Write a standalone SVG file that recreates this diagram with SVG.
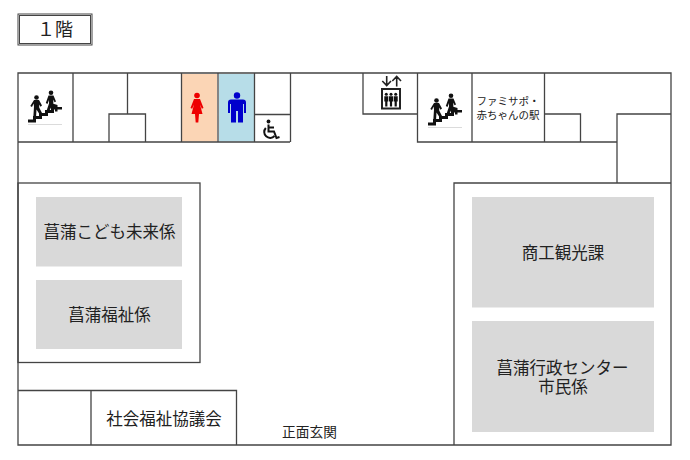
<svg xmlns="http://www.w3.org/2000/svg" width="690" height="460" viewBox="0 0 690 460">
<style>
text{font-family:"Noto Sans CJK JP","Liberation Sans",sans-serif;fill:#222;text-anchor:middle}
.l{fill:none;stroke:#444;stroke-width:1.300}
.g{fill:#d9d9d9}
.k{fill:#111}
.b{font-size:16.500px}
</style>
<defs>
<g id="stairs">
<path class="k" d="M28 122.500V119.500H33V116H39V113H45V110H51V107H62V109.500H54V113H48V116H42V119H36V122.500Z"/>
<path d="M28 124.500H62" stroke="#ccc" stroke-width="0.700"/>
<circle class="k" cx="36.500" cy="97.500" r="2.300"/>
<circle class="k" cx="51" cy="92.800" r="2.300"/>
<path class="k" d="M34 100H39L42 105.500L40.500 106.800L39.200 104.500L39.200 107.500L42.500 114L40 115L36.500 109.500L36 117.500H33.300L34 106.500L33.600 103.500L32 107L30.300 106Z"/>
<path class="k" d="M48.500 95.500H53.500L56 101.500L54.500 102.300L53.300 99.500L53.300 103.800L57.500 105V111.500H55V107.300L51 107.500L48.500 112.500H46L49 103.500L49 100L47.500 104L45.800 103Z"/>
</g>
<g id="p" class="k"><circle cx="0" cy="1.300" r="1.500"/><path d="M-2 3.300H2V8.500H1.100V13.500H-1.100V8.500H-2Z"/></g>
</defs>
<rect width="690" height="460" fill="#fff"/>
<g id="title">
<rect x="18" y="14" width="74" height="31" fill="#fff" stroke="#444" stroke-width="1"/>
<rect x="19.500" y="15.500" width="71" height="28" fill="none" stroke="#444" stroke-width="1"/>
<text x="55" y="36" font-size="18">１階</text>
</g>
<g id="toilets">
<rect x="182" y="74" width="35" height="67.500" fill="#fbd5b5"/>
<rect x="219" y="74" width="35" height="67.500" fill="#b7dde8"/>
</g>
<g id="connectors">
<path class="l" d="M18 73H671V445H18ZM18 142H290M73 73V142M127.500 73V114M109 142V114H145.500V142M181.500 73V142M218 73V142M254.500 73V142M290.500 73V142M254.500 114.500H290.500"/>
<path class="l" d="M363 73V114H417.500M417.500 73V142H617M472 73V142M544.500 73V142M544.500 114H580.500V142M617 183V114H671"/>
</g>
<g id="room-left">
<rect class="l" x="18" y="183" width="182" height="179.500"/>
</g>
<g id="room-kodomo"><rect class="g" x="36" y="197" width="146" height="69.500"/><text class="b" x="109.500" y="237.500">菖蒲こども未来係</text></g>
<g id="room-fukushi"><rect class="g" x="36" y="280" width="146" height="69"/><text class="b" x="109.500" y="320.500">菖蒲福祉係</text></g>
<g id="room-shakai">
<path class="l" d="M18 390.500H236.500V445M91 390.500V445"/>
<text class="b" x="164" y="424.500">社会福祉協議会</text>
</g>
<g id="entrance"><text x="309.500" y="437" font-size="13.700">正面玄関</text></g>
<g id="room-right"><path class="l" d="M671 183H454V445"/></g>
<g id="room-shoko"><rect class="g" x="472" y="197" width="182" height="110.500"/><text class="b" x="563" y="258.500">商工観光課</text></g>
<g id="room-shimin"><rect class="g" x="472" y="321" width="182" height="111"/><text class="b"><tspan x="562.500" y="373.500">菖蒲行政センター</tspan><tspan x="563" y="392.500">市民係</tspan></text></g>
<g id="famisapo"><text font-size="10.500"><tspan x="508" y="104.500">ファミサポ・</tspan><tspan x="508" y="118.500">赤ちゃんの駅</tspan></text></g>
<g id="stairs-left"><use href="#stairs"/></g>
<g id="stairs-right"><use href="#stairs" x="400" y="3"/></g>
<g id="female"><circle cx="197" cy="95.500" r="2.800" fill="#e00"/><path fill="#e00" d="M194 99H200L203.500 108L201.800 108.800L200 104.500L202.500 114H199L198.300 122.500H195.700L195 114H191.500L194 104.500L192.200 108.800L190.500 108Z"/></g>
<g id="male"><circle cx="237" cy="95.500" r="3.200" fill="#00c"/><path fill="#00c" d="M231 99.500H243Q246 99.500 246 102.500V113H244V104H243V122.500H238V111H236V122.500H231V104H230V113H228V102.500Q228 99.500 231 99.500Z"/></g>
<g id="accessible">
<circle class="k" cx="268.500" cy="121.500" r="1.900"/>
<path d="M268.500 124.500V131.500H274L276.500 138L279.500 137M268.500 127.500H274" fill="none" stroke="#111" stroke-width="2"/>
<path d="M265.800 128A5.800 5.800 0 1 0 274.500 136" fill="none" stroke="#111" stroke-width="2"/>
</g>
<g id="elevator">
<rect x="382" y="89" width="18" height="19.500" fill="#fff" stroke="#222" stroke-width="2"/>
<use href="#p" x="386.300" y="93"/><use href="#p" x="391" y="93"/><use href="#p" x="395.700" y="93"/>
<path d="M386.700 76V85M382.300 81L386.700 85.500L391 81M396.700 86.500V77M392.300 81L396.700 76.500L401 81" fill="none" stroke="#222" stroke-width="1.600"/>
</g>
</svg>
